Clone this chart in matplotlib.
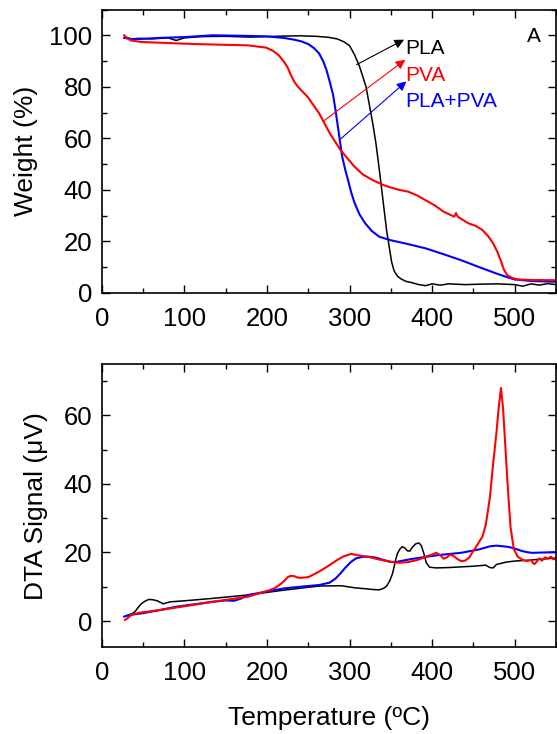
import matplotlib
matplotlib.use("Agg")
import matplotlib.pyplot as plt
from matplotlib.ticker import MultipleLocator

plt.rcParams['font.family'] = ['Liberation Sans', 'DejaVu Sans']

# TGA curves (weight %)
pla_T = [28, 35, 45, 60, 80, 90, 100, 120, 150, 180, 200, 220, 240, 260, 275, 285, 293, 300, 306, 312,
         316, 320, 324, 328, 332, 336, 339, 342, 345, 348, 351, 354, 358, 362, 368, 375, 384, 392, 400,
         410, 420, 440, 460, 480, 500, 510, 520, 530, 540, 550]
pla_W = [99.5, 98.5, 98.8, 98.6, 99.0, 98.0, 99.0, 99.5, 99.6, 99.3, 99.5, 99.7, 99.8, 99.6, 99.2, 98.6,
         97.5, 96.0, 92.5, 88.0, 84.0, 80.0, 73.0, 66.0, 58.0, 48.0, 40.0, 32.0, 24.0, 18.0, 12.0, 8.5,
         6.5, 5.5, 4.5, 4.0, 3.2, 2.8, 3.5, 3.0, 3.5, 3.2, 3.4, 3.5, 3.2, 2.6, 3.5, 3.0, 3.6, 3.2]

blend_T = [27, 35, 48, 70, 100, 134, 170, 199, 220, 233, 242, 250, 257, 263, 268, 272, 276, 280, 283,
           287, 291, 295, 298, 302, 306, 312, 319, 327, 336, 349, 370, 392, 414, 435, 457, 478, 490,
           500, 520, 550]
blend_W = [99.0, 98.6, 98.6, 99.0, 99.3, 100.0, 99.8, 99.6, 99.0, 98.3, 97.6, 96.6, 95.0, 93.0, 90.0,
           86.6, 82.0, 77.0, 71.0, 62.0, 53.0, 47.5, 44.0, 39.0, 35.0, 30.5, 27.0, 24.0, 21.8, 20.5,
           19.0, 17.3, 15.0, 12.7, 10.0, 7.5, 6.2, 5.2, 4.6, 4.3]

pva_T = [27, 30, 35, 48, 80, 113, 150, 177, 199, 207, 214, 220, 225, 229, 233, 237, 241, 245, 250, 256,
         263, 276, 289, 298, 306, 316, 328, 340, 349, 360, 371, 382, 392, 403, 414, 422, 427, 429, 431,
         434, 444, 453, 461, 468, 474, 479, 483, 487, 491, 497, 504, 520, 550]
pva_W = [100.0, 99.0, 98.0, 97.4, 97.0, 96.6, 96.3, 96.1, 95.2, 94.0, 92.3, 90.0, 87.5, 84.5, 82.0,
         80.2, 78.8, 77.5, 75.8, 73.0, 69.8, 62.0, 55.5, 52.0, 49.0, 46.0, 43.8, 42.0, 41.0, 40.0, 39.3,
         37.8, 36.0, 34.0, 31.5, 30.3, 29.6, 31.0, 29.6, 29.0, 27.0, 26.0, 24.4, 22.0, 19.2, 16.0, 12.7,
         9.0, 6.9, 5.8, 5.2, 5.0, 4.9]

# DTA curves (uV)
dta_pla_T = [30, 33, 37, 40, 44, 48, 53, 57, 62, 67, 72, 74, 78, 83, 100, 134, 177, 220, 263, 290, 306,
             320, 328, 336, 341, 345, 349, 352, 354, 356, 358, 361, 364, 367, 370, 373, 376, 380, 384,
             387, 390, 393, 397, 405, 420, 435, 450, 465, 470, 474, 478, 490, 500, 520, 550]
dta_pla_V = [1.5, 1.7, 2.2, 2.7, 4.0, 5.1, 5.9, 6.3, 6.2, 5.9, 5.3, 5.0, 5.3, 5.6, 5.9, 6.6, 7.6, 9.0,
             10.2, 10.3, 9.7, 9.4, 9.2, 9.1, 9.5, 10.2, 11.9, 13.8, 15.8, 18.0, 19.7, 21.0, 21.7, 21.3,
             20.5, 20.4, 21.5, 22.5, 22.8, 22.0, 19.7, 17.0, 15.7, 15.5, 15.6, 15.8, 16.0, 16.3, 15.6,
             15.5, 16.5, 17.2, 17.5, 17.8, 18.4]

dta_blend_T = [27, 33, 40, 48, 70, 91, 134, 150, 160, 168, 177, 200, 220, 240, 263, 276, 283, 289, 295,
               302, 308, 315, 322, 332, 340, 349, 356, 362, 375, 392, 410, 435, 457, 470, 478, 490, 495,
               502, 508, 515, 521, 535, 550]
dta_blend_V = [1.3, 1.8, 2.0, 2.2, 3.2, 4.2, 5.6, 6.0, 5.9, 6.5, 7.6, 8.6, 9.5, 10.0, 10.5, 11.2, 12.4,
               13.9, 15.6, 17.3, 18.3, 18.7, 18.8, 18.5, 17.9, 17.3, 17.2, 17.5, 18.1, 18.7, 19.3, 19.9,
               20.9, 21.8, 22.0, 21.7, 21.5, 21.0, 20.5, 20.1, 19.9, 20.0, 20.1]

dta_pva_T = [28, 32, 35, 45, 70, 100, 134, 177, 203, 210, 215, 220, 225, 229, 233, 237, 241, 250, 263,
             275, 285, 293, 302, 310, 323, 335, 349, 360, 371, 382, 392, 400, 405, 410, 414, 418, 422,
             426, 430, 435, 440, 445, 448, 453, 458, 461, 465, 470, 474, 478, 481, 483.5, 486, 489, 492,
             495, 499, 504, 510, 515, 520, 522, 524, 527, 530, 533, 537, 540, 544, 547, 550]
dta_pva_V = [0.3, 1.0, 1.7, 2.4, 3.2, 4.3, 5.6, 7.1, 9.0, 9.7, 10.5, 11.5, 12.8, 13.2, 13.1, 12.7, 12.6,
             12.8, 14.4, 16.2, 17.8, 18.9, 19.6, 19.2, 18.7, 18.0, 17.3, 17.0, 17.2, 17.8, 18.7, 19.4,
             19.9, 19.2, 18.2, 18.6, 19.4, 19.0, 18.2, 17.5, 17.6, 18.5, 19.7, 21.5, 23.5, 24.6, 28.0,
             36.0, 46.0, 55.0, 63.0, 68.0, 62.0, 50.0, 38.0, 27.5, 21.0, 18.7, 17.8, 17.5, 17.8, 17.0,
             16.6, 17.4, 18.3, 17.6, 18.6, 18.2, 18.8, 18.0, 18.2]

labels = ['PLA', 'PVA', 'PLA+PVA']
colors = ['black', 'red', 'blue']
arrow_tail = [(308.5, 88.6), (267.6, 66.5), (289.0, 59.7)]
arrow_head = [(366.0, 98.3), (367.5, 90.5), (368.8, 82.1)]
label_y = [94.8, 84.5, 74.4]

fig = plt.figure(figsize=(5.57, 7.34), dpi=100)
ax1 = fig.add_axes([0.183, 0.601, 0.815, 0.386])
ax2 = fig.add_axes([0.183, 0.118, 0.815, 0.386])

ax1.plot(pla_T, pla_W, color='black', lw=1.1)
ax1.plot(blend_T, blend_W, color='blue', lw=1.5)
ax1.plot(pva_T, pva_W, color='red', lw=1.5)

for lab, c, t, h, ly in zip(labels, colors, arrow_tail, arrow_head, label_y):
    ax1.annotate('', xy=h, xytext=t,
                 arrowprops=dict(arrowstyle='-|>', color=c, lw=0.8, mutation_scale=14,
                                 shrinkA=0, shrinkB=0))
    ax1.text(367, ly, lab, color=c, fontsize=15, va='center', ha='left')
ax1.text(523, 99.6, 'A', fontsize=15, ha='center', va='center')

ax2.plot(dta_pla_T, dta_pla_V, color='black', lw=1.1)
ax2.plot(dta_blend_T, dta_blend_V, color='blue', lw=1.5)
ax2.plot(dta_pva_T, dta_pva_V, color='red', lw=1.5)

ax1.set_xlim(0, 550)
ax1.set_ylim(0, 110)
ax2.set_xlim(0, 550)
ax2.set_ylim(-7.7, 75)

ax1.yaxis.set_major_locator(MultipleLocator(20))
ax1.yaxis.set_minor_locator(MultipleLocator(10))
ax2.yaxis.set_major_locator(MultipleLocator(20))
ax2.yaxis.set_minor_locator(MultipleLocator(10))
for ax in (ax1, ax2):
    ax.xaxis.set_major_locator(MultipleLocator(100))
    ax.xaxis.set_minor_locator(MultipleLocator(50))
    ax.tick_params(which='both', direction='in', top=True, right=True, labelsize=18.5, width=1.0)
    ax.tick_params(which='major', length=6)
    ax.tick_params(which='minor', length=3.5)
    ax.tick_params(axis='x', pad=10)
    ax.tick_params(axis='y', pad=7)
    for s in ax.spines.values():
        s.set_linewidth(1.2)

ax1.set_ylabel('Weight (%)', fontsize=19, labelpad=8)
ax2.set_ylabel('DTA Signal (μV)', fontsize=19, labelpad=11)
ax2.set_xlabel('Temperature (ºC)', fontsize=19, labelpad=15)

fig.savefig('out.png', dpi=100)
